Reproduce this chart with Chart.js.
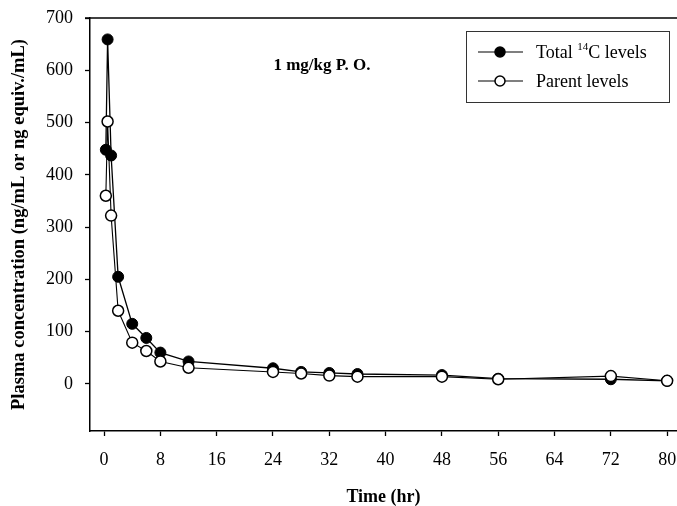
<!DOCTYPE html>
<html>
<head>
<meta charset="utf-8">
<script src="https://cdn.jsdelivr.net/npm/chart.js@4/dist/chart.umd.min.js"></script>
<style>
  html, body { margin: 0; padding: 0; background: #fff; }
  #wrap { width: 677px; height: 506px; position: relative; }
</style>
</head>
<body>
<div id="wrap"><canvas id="pkCanvas"></canvas></div>
<script>
const hours = [0.25, 0.5, 1, 2, 4, 6, 8, 12, 24, 28, 32, 36, 48, 56, 72, 80];
const totalC14 = [448, 659, 437, 205, 115, 88, 60, 43, 30, 23, 21, 19, 17, 10, 9, 6];
const parentLevels = [360, 502, 322, 140, 79, 63, 43, 31, 23, 20, 16, 14, 14, 9, 15, 6];
const xTicks = [0, 8, 16, 24, 32, 40, 48, 56, 64, 72, 80];
const yTicks = [0, 100, 200, 300, 400, 500, 600, 700];

const serif = "'Liberation Serif', 'Times New Roman', serif";

const toPoints = (ys) => hours.map((h, i) => ({ x: h, y: ys[i] }));

// top frame line, dose label and the hand-drawn legend box
const extras = {
    id: 'extras',
    afterDraw(chart) {
        const ctx = chart.ctx;
        const area = chart.chartArea;
        ctx.save();
        ctx.strokeStyle = '#000';
        ctx.lineWidth = 1.5;
        ctx.beginPath();
        ctx.moveTo(area.left - 5, area.top);
        ctx.lineTo(chart.width, area.top);
        ctx.stroke();

        ctx.fillStyle = '#000';
        ctx.font = 'bold 17px ' + serif;
        ctx.textAlign = 'center';
        ctx.textBaseline = 'middle';
        ctx.fillText('1 mg/kg P. O.', 322, 66);

        // legend
        ctx.lineWidth = 1;
        ctx.strokeStyle = '#333';
        ctx.strokeRect(466.5, 31.5, 203, 71);
        const rows = [
            { y: 52, fill: '#000' },
            { y: 81, fill: '#fff' }
        ];
        rows.forEach(r => {
            ctx.strokeStyle = '#000';
            ctx.lineWidth = 1.2;
            ctx.beginPath();
            ctx.moveTo(478, r.y);
            ctx.lineTo(523, r.y);
            ctx.stroke();
            ctx.beginPath();
            ctx.arc(500, r.y, 5, 0, Math.PI * 2);
            ctx.fillStyle = r.fill;
            ctx.fill();
            ctx.lineWidth = 1.5;
            ctx.stroke();
        });
        ctx.fillStyle = '#000';
        ctx.textAlign = 'left';
        ctx.textBaseline = 'middle';
        ctx.font = '18px ' + serif;
        ctx.fillText('Total ', 536, 53);
        let w = ctx.measureText('Total ').width;
        ctx.font = '11px ' + serif;
        ctx.fillText('14', 536 + w, 47);
        w += ctx.measureText('14').width;
        ctx.font = '18px ' + serif;
        ctx.fillText('C levels', 536 + w, 53);
        ctx.fillText('Parent levels', 536, 82);
        ctx.restore();
    }
};

new Chart(document.getElementById('pkCanvas'), {
    type: 'line',
    data: {
        datasets: [{
            label: 'Total 14C levels',
            data: toPoints(totalC14),
            borderColor: '#000',
            borderWidth: 1.3,
            backgroundColor: '#000',
            pointBackgroundColor: '#000',
            pointBorderColor: '#000',
            pointRadius: 5.5,
            pointBorderWidth: 1,
            tension: 0,
            order: 2,
            clip: false
        }, {
            label: 'Parent levels',
            data: toPoints(parentLevels),
            borderColor: '#000',
            borderWidth: 1.1,
            pointBackgroundColor: '#fff',
            pointBorderColor: '#000',
            pointRadius: 5.5,
            pointBorderWidth: 1.5,
            tension: 0,
            order: 1,
            clip: false
        }]
    },
    options: {
        responsive: true,
        maintainAspectRatio: false,
        animation: false,
        layout: { autoPadding: false, padding: { top: 18, right: 0, left: 0, bottom: 0 } },
        scales: {
            x: {
                type: 'linear',
                min: -2,
                max: 81.4,
                afterBuildTicks: (s) => { s.ticks = xTicks.map(v => ({ value: v })); },
                afterFit: (s) => { s.height = 75; s.paddingRight = 0; s.paddingLeft = 0; },
                grid: { drawOnChartArea: false, drawTicks: true, tickLength: 5, tickColor: '#000', tickWidth: 1.3 },
                border: { display: true, color: '#000', width: 1.5 },
                ticks: { color: '#000', font: { family: serif, size: 18 }, padding: 13, maxRotation: 0 },
                title: { display: true, text: 'Time (hr)', color: '#000', font: { family: serif, size: 18, weight: 'bold' }, padding: { top: 12, bottom: -2 } }
            },
            y: {
                min: -90,
                max: 700,
                afterBuildTicks: (s) => { s.ticks = yTicks.map(v => ({ value: v })); },
                afterFit: (s) => { s.width = 90; s.paddingTop = 0; s.paddingBottom = 0; },
                grid: { drawOnChartArea: false, drawTicks: true, tickLength: 5, tickColor: '#000', tickWidth: 1.3 },
                border: { display: true, color: '#000', width: 1.5 },
                ticks: { color: '#000', font: { family: serif, size: 18 }, padding: 12 },
                title: { display: true, text: 'Plasma concentration (ng/mL or ng equiv./mL)', color: '#000', font: { family: serif, size: 18.5, weight: 'bold' }, padding: { top: 8, bottom: 0 } }
            }
        },
        plugins: {
            legend: { display: false },
            tooltip: { enabled: false }
        }
    },
    plugins: [extras]
});
</script>
</body>
</html>
